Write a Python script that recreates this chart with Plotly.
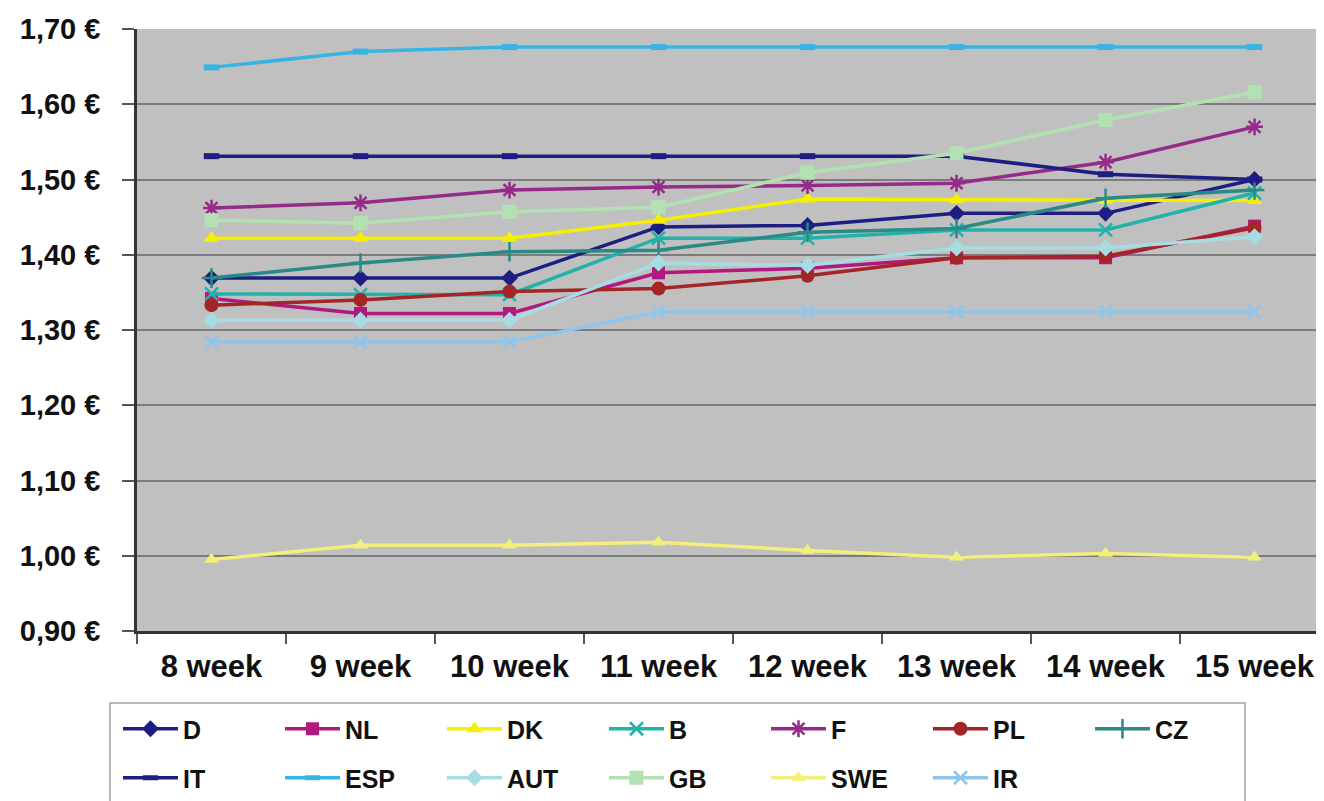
import plotly.graph_objects as go

weeks = ["8 week", "9 week", "10 week", "11 week", "12 week", "13 week", "14 week", "15 week"]

D   = [1.369, 1.369, 1.369, 1.437, 1.439, 1.455, 1.455, 1.500]
NL  = [1.342, 1.322, 1.322, 1.376, 1.382, 1.396, 1.396, 1.438]
DK  = [1.422, 1.422, 1.422, 1.446, 1.474, 1.473, 1.472, 1.472]
B   = [1.348, 1.347, 1.347, 1.422, 1.422, 1.433, 1.433, 1.482]
F   = [1.462, 1.469, 1.486, 1.490, 1.492, 1.495, 1.523, 1.570]
PL  = [1.333, 1.340, 1.351, 1.355, 1.372, 1.396, 1.398, 1.436]
CZ  = [1.369, 1.389, 1.404, 1.406, 1.430, 1.435, 1.475, 1.486]
IT  = [1.531, 1.531, 1.531, 1.531, 1.531, 1.531, 1.507, 1.500]
ESP = [1.649, 1.670, 1.676, 1.676, 1.676, 1.676, 1.676, 1.676]
AUT = [1.313, 1.313, 1.313, 1.389, 1.386, 1.409, 1.409, 1.424]
GB  = [1.446, 1.442, 1.457, 1.463, 1.509, 1.535, 1.579, 1.616]
SWE = [0.995, 1.014, 1.014, 1.018, 1.007, 0.998, 1.003, 0.998]
IR  = [1.284, 1.284, 1.284, 1.324, 1.324, 1.324, 1.324, 1.324]

y_ticks = [0.90, 1.00, 1.10, 1.20, 1.30, 1.40, 1.50, 1.60, 1.70]
y_tick_labels = ["0,90 €", "1,00 €", "1,10 €", "1,20 €", "1,30 €", "1,40 €", "1,50 €", "1,60 €", "1,70 €"]

series = [
    ("D", D, "#1e1e82", dict(symbol="diamond", size=13), "legend"),
    ("NL", NL, "#b0197e", dict(symbol="square", size=13), "legend"),
    ("DK", DK, "#f4f000", dict(symbol="triangle-up", size=14), "legend"),
    ("B", B, "#22b2aa", dict(symbol="x-thin-open", size=13, line=dict(width=2.5)), "legend"),
    ("F", F, "#962a88", dict(symbol="asterisk-open", size=14, line=dict(width=2.5)), "legend"),
    ("PL", PL, "#a32525", dict(symbol="circle", size=14), "legend"),
    ("CZ", CZ, "#2a8a86", dict(symbol="cross-thin-open", size=14, line=dict(width=2.5)), "legend"),
    ("IT", IT, "#1e1e82", dict(symbol="line-ew-open", size=11, line=dict(width=6)), "legend2"),
    ("ESP", ESP, "#36b4e6", dict(symbol="line-ew-open", size=11, line=dict(width=6)), "legend2"),
    ("AUT", AUT, "#a6dde2", dict(symbol="diamond", size=13), "legend2"),
    ("GB", GB, "#b2e2b2", dict(symbol="square", size=14), "legend2"),
    ("SWE", SWE, "#f2f07a", dict(symbol="triangle-up", size=13), "legend2"),
    ("IR", IR, "#8ec5ea", dict(symbol="x-thin-open", size=13, line=dict(width=2.5)), "legend2"),
]

fig = go.Figure()
for name, vals, color, mk, lg in series:
    mk = dict(mk)
    mk["color"] = color
    if "line" in mk:
        mk["line"] = dict(mk["line"], color=color)
    fig.add_trace(go.Scatter(
        x=weeks, y=vals, name=name, mode="lines+markers",
        line=dict(color=color, width=3.5), marker=mk, legend=lg,
    ))

# page body has an 8px margin; figure sized/positioned to compensate
OFF = 8
W, H = 1324 - OFF, 801 - OFF
L, R, T = 137 - OFF, 0, 29 - OFF
B_ = H - (631 - OFF)
pw = W - L - R
ph = H - T - B_

def px_x(p):
    return (p - OFF - L) / pw

def px_y(p):
    return (H - B_ - (p - OFF)) / ph

leg_font = dict(family="Liberation Sans", size=25, color="#111111", weight="bold")

fig.update_layout(
    width=W, height=H,
    margin=dict(l=L, r=R, t=T, b=B_, autoexpand=False),
    paper_bgcolor="white",
    plot_bgcolor="#c0c0c0",
    font=dict(family="Liberation Sans", color="#111111"),
    showlegend=True,
    legend=dict(orientation="h", x=px_x(118), xanchor="left", y=px_y(729), yanchor="middle",
                itemwidth=55, entrywidth=92, entrywidthmode="pixels", font=leg_font,
                bgcolor="rgba(0,0,0,0)", traceorder="normal"),
    legend2=dict(orientation="h", x=px_x(118), xanchor="left", y=px_y(778), yanchor="middle",
                 itemwidth=55, entrywidth=92, entrywidthmode="pixels", font=leg_font,
                 bgcolor="rgba(0,0,0,0)", traceorder="normal"),
    shapes=[dict(type="rect", xref="paper", yref="paper",
                 x0=px_x(110), x1=px_x(1245), y0=px_y(703), y1=px_y(815),
                 line=dict(color="#a0a0a0", width=1.5), fillcolor="rgba(0,0,0,0)", layer="below")],
)

fig.update_xaxes(
    type="category", categoryorder="array", categoryarray=weeks,
    range=[-0.5, 7.466],
    tickson="boundaries", ticks="outside", ticklen=10, tickcolor="#555555", tickwidth=1.5,
    ticklabelstandoff=6,
    showgrid=False, zeroline=False,
    showline=True, linecolor="#333333", linewidth=2.5,
    tickfont=dict(family="Liberation Sans", size=31, color="#111111", weight="bold"),
)
fig.update_yaxes(
    range=[0.9, 1.70],
    tickvals=y_ticks, ticktext=y_tick_labels,
    ticks="outside", ticklen=12, tickcolor="#555555", tickwidth=1.5,
    ticklabelstandoff=16,
    showgrid=True, gridcolor="#7c7c7c", gridwidth=2,
    zeroline=False,
    showline=True, linecolor="#333333", linewidth=2.5,
    tickfont=dict(family="Liberation Sans", size=29, color="#111111", weight="bold"),
)

fig.write_html("out.html")
